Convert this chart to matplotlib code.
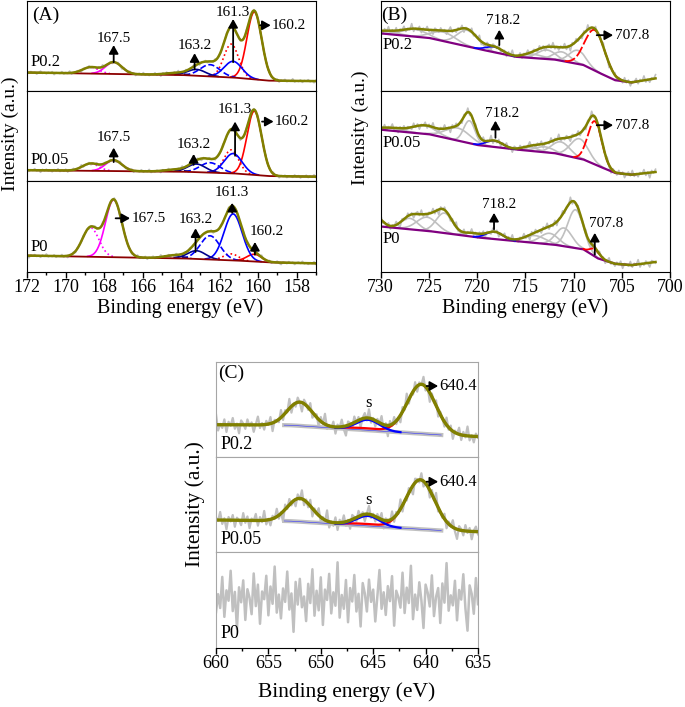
import numpy as np
import matplotlib.pyplot as plt

plt.rcParams['font.family'] = ['Liberation Serif', 'DejaVu Serif']

# residual pattern of the noisy raw spectra (read by eye, in units of the noise level)
resid = [0.12, -0.35, 0.48, -0.10, 0.22, -0.61, 0.05, 0.73, -0.28, 0.15,
         -0.44, 0.31, -0.08, 0.57, -0.72, 0.19, 0.02, -0.25, 0.66, -0.39,
         0.27, -0.13, 0.84, -0.55, 0.09, -0.31, 0.41, -0.06, -0.78, 0.35,
         0.14, -0.22, 0.59, -0.47, 0.03, 0.26, -0.65, 0.38, -0.12, 0.91,
         -0.33, 0.07, -0.19, 0.45, -0.58, 0.21, -0.04, 0.62, -0.27, -0.85,
         0.33, 0.11, -0.41, 0.52, -0.16, 0.29, -0.69, 0.08, 0.44, -0.23,
         0.77, -0.36, 0.13, -0.52, 0.24, -0.09, 0.68, -0.43, 0.18, -0.95,
         0.36, -0.14, 0.51, -0.29, 0.06, -0.62, 0.40, -0.18, 0.87, -0.37,
         0.10, -0.26, 0.55, -0.49, 0.20, -0.07, 0.71, -0.34, 0.16, -0.80,
         0.28, -0.11, 0.46, -0.57, 0.23, 0.01, -0.42, 0.64, -0.21, 0.35,
         -0.67, 0.17, -0.03, 0.58, -0.45, 0.30, -0.15, 0.82, -0.38, 0.09,
         -0.53, 0.25, -0.10, 0.69, -0.30, 0.12, -0.88, 0.42, -0.17, 0.50,
         -0.24, 0.04, -0.60, 0.37, -0.13, 0.75, -0.46, 0.19, -0.32, 0.54,
         -0.70, 0.22, -0.05, 0.63, -0.40, 0.15, -0.20, 0.93, -0.51, 0.08,
         -0.28, 0.47, -0.63, 0.26, -0.09, 0.60, -0.35, 0.11, -0.74, 0.39]

samples = ['P0.2', 'P0.05', 'P0']

# (A) S 2p : component centres / FWHM (eV), heights per sample
a_cent = [160.2, 161.4, 161.3, 162.5, 163.2, 164.4, 167.5, 168.7]
a_fwhm = [0.9, 0.9, 1.1, 1.2, 1.1, 1.1, 1.0, 1.0]
a_height = [[75, 37, 18, 13, 7, 2, 13, 7],
            [71, 26, 22, 11, 9, 2, 12, 8],
            [8, 7, 51, 26, 9, 3, 63, 32]]
a_bg_x = [172, 164, 161.3, 159.5, 157]
a_bg = [[20.5, 17.8, 15, 11.5, 11],
        [12, 10.4, 8.5, 5.5, 4.8],
        [18, 15, 12.8, 10.6, 9.5]]

# (B) Fe 2p : Shirley background and components (centre, height, FWHM)
b_bg_x = [730, 725, 720, 716, 712, 709, 707.5, 705.7, 704, 701.5]
b_bg = [[64, 59, 47, 38, 35, 29, 21, 12, 9.5, 14],
        [57, 52, 40, 35, 31, 24, 17, 9, 7, 10],
        [50, 45, 38, 34, 30, 25, 15, 9, 7.5, 11]]
b_red = [(707.8, 45, 2.4), (707.8, 48, 1.7), (707.8, 8, 1.2)]
b_blue = [(718.2, 6, 2.0), (718.2, 7, 2.0), (718.2, 8, 2.0)]
b_gray = [
    [(709.6, 15, 2.0), (711.2, 10, 2.0), (712.8, 10, 2.2), (714.2, 4, 2.5),
     (721.0, 18, 2.5), (723.5, 10, 3.0), (726.5, 8, 3.0), (729.5, 3, 3.0)],
    [(709.4, 22, 2.2), (711.3, 14, 2.2), (713.0, 6, 2.2), (714.5, 4, 2.0),
     (720.8, 25, 1.4), (722.0, 14, 3.0), (725.5, 9, 3.0), (729.0, 3, 3.0)],
    [(709.8, 42, 1.9), (711.0, 20, 2.0), (712.5, 12, 2.2), (714.0, 8, 2.6),
     (720.5, 4, 2.0), (723.4, 22, 2.0), (725.2, 15, 2.5), (727.0, 12, 2.0),
     (730.5, 10, 1.6)],
]

# (C) Mn 2p
c_bg_x = [660, 653, 638.3, 635]
c_bg = [[34, 33.5, 23, 21.5], [33.7, 32.6, 22.5, 21.4]]
c_red = [[(640.4, 52, 3.2), (646.0, 2, 4.0), (652.0, 25, 2.8)],
         [(640.5, 52, 3.2), (646.0, 2, 4.0), (652.0, 24.5, 2.8)]]
c_blue = [[(645.5, 11, 2.6)], [(645.5, 10.5, 2.6)]]
c_p0_level = 52

res = np.array(resid)
OLIVE = '#808000'
GRAY = '#c0c0c0'


def gauss(x, c, h, w):
    return h * np.exp(-4 * np.log(2) * ((x - c) / w) ** 2)


def bg_line(x, xp, fp):
    xp = np.array(xp)
    fp = np.array(fp)
    o = np.argsort(xp)
    return np.interp(x, xp[o], fp[o])


def arrow(ax, x0, y0, x1, y1):
    ax.annotate('', xy=(x1, y1), xytext=(x0, y0),
                arrowprops=dict(arrowstyle='-|>,head_length=0.5,head_width=0.28',
                                color='k', lw=1.3, shrinkA=0, shrinkB=0))


fig = plt.figure(figsize=(6.85, 7.07), dpi=100)


def column(left, width, bottoms, heights, lim):
    axs = []
    for b, h in zip(bottoms, heights):
        ax = fig.add_axes([left, b, width, h])
        ax.set_xlim(lim)
        ax.set_ylim(0, 100)
        ax.set_yticks([])
        ax.tick_params(axis='x', bottom=False, labelbottom=False)
        axs.append(ax)
    axs[-1].tick_params(axis='x', bottom=True, labelbottom=True, direction='out',
                        length=4, width=1, labelsize=13, pad=1)
    axs[-1].tick_params(axis='x', which='minor', length=2.5, width=1)
    return axs


ax_a = column(0.0394, 0.4219, [0.8713, 0.7440, 0.6153], [0.1273, 0.1273, 0.1287], (172, 157))
ax_b = column(0.5558, 0.4223, [0.8713, 0.7440, 0.6153], [0.1273, 0.1273, 0.1287], (730, 700))
ax_c = column(0.3153, 0.3825, [0.3536, 0.2192, 0.0835], [0.1344, 0.1344, 0.1358], (660, 635))

# ---------------- (A) ----------------
a_style = [('#ff0000', '-'), ('#ff0000', ':'), ('#0000ff', '-'), ('#0000ff', '--'),
           ('#00008b', '-'), ('#00008b', '--'), ('#ff00ff', '-'), ('#ff00ff', ':')]
xa = np.linspace(172, 157, 150)
xf = np.linspace(172, 157, 900)
for i, ax in enumerate(ax_a):
    base_r = bg_line(xa, a_bg_x, a_bg[i])
    env_r = base_r + sum(gauss(xa, c, h, w) for c, h, w in zip(a_cent, a_height[i], a_fwhm))
    ax.plot(xa, env_r + 2.5 * np.roll(res, 41 * i), color=GRAY, lw=1.2)
    base = bg_line(xf, a_bg_x, a_bg[i])
    env = base.copy()
    for c, h, w, (col, ls) in zip(a_cent, a_height[i], a_fwhm, a_style):
        g = gauss(xf, c, h, w)
        env += g
        m = g > 0.4
        ax.plot(xf[m], (base + g)[m], color=col, ls=ls, lw=1.2)
    ax.plot(xf, base, color='#8b0000', lw=1.3)
    ax.plot(xf, env, color=OLIVE, lw=1.8)
    ax.text(171.8, [32, 23, 27.5][i], samples[i], fontsize=12, va='center', ha='left')

ax_a[-1].set_xticks(np.arange(172, 157, -2))
ax_a[-1].set_xticks(np.arange(172, 156.5, -1), minor=True)
ax_a[0].text(0.017, 0.84, '(A)', transform=ax_a[0].transAxes, fontsize=14, va='center')

fs = 11
ax = ax_a[0]
arrow(ax, 167.5, 32, 167.5, 51); ax.text(167.5, 58, '167.5', fontsize=fs, ha='center', va='center')
arrow(ax, 163.3, 24, 163.3, 42); ax.text(163.3, 51, '163.2', fontsize=fs, ha='center', va='center')
arrow(ax, 161.3, 32, 161.3, 80); ax.text(161.3, 87, '161.3', fontsize=fs, ha='center', va='center')
arrow(ax, 159.9, 73, 159.35, 73); ax.text(159.3, 73, '160.2', fontsize=fs, ha='left', va='center')
ax = ax_a[1]
arrow(ax, 167.5, 21, 167.5, 37); ax.text(167.5, 48, '167.5', fontsize=fs, ha='center', va='center')
arrow(ax, 163.35, 18, 163.35, 30); ax.text(163.35, 40, '163.2', fontsize=fs, ha='center', va='center')
arrow(ax, 161.2, 28, 161.2, 66); ax.text(161.2, 79, '161.3', fontsize=fs, ha='center', va='center')
arrow(ax, 159.8, 66, 159.2, 66); ax.text(159.15, 66, '160.2', fontsize=fs, ha='left', va='center')
ax = ax_a[2]
arrow(ax, 167.4, 59, 166.65, 59); ax.text(166.55, 59, '167.5', fontsize=fs, ha='left', va='center')
arrow(ax, 163.25, 22, 163.25, 48); ax.text(163.25, 58, '163.2', fontsize=fs, ha='center', va='center')
arrow(ax, 161.35, 65, 161.35, 76); ax.text(161.35, 87, '161.3', fontsize=fs, ha='center', va='center')
arrow(ax, 160.17, 19, 160.17, 33); ax.text(159.55, 44, '160.2', fontsize=fs, ha='center', va='center')

# ---------------- (B) ----------------
xb = np.linspace(730, 701.5, 143)
xbf = np.linspace(730, 701.5, 900)
for i, ax in enumerate(ax_b):
    comps = b_gray[i] + [b_red[i], b_blue[i]]
    base_r = bg_line(xb, b_bg_x, b_bg[i])
    env_r = base_r + sum(gauss(xb, *p) for p in comps)
    ax.plot(xb, env_r + 6 * np.roll(res, 29 + 41 * i)[:len(xb)], color=GRAY, lw=1.2)
    base = bg_line(xbf, b_bg_x, b_bg[i])
    for p in b_gray[i]:
        g = gauss(xbf, *p)
        m = g > 0.4
        ax.plot(xbf[m], (base + g)[m], color=GRAY, lw=1.2)
    mb = xbf >= 703.5
    ax.plot(xbf[mb], base[mb], color='#800080', lw=1.6)
    g = gauss(xbf, *b_blue[i])
    m = g > 0.3
    ax.plot(xbf[m], (base + g)[m], color='#0000ff', lw=1.2)
    g = gauss(xbf, *b_red[i])
    m = g > 0.4
    ax.plot(xbf[m], (base + g)[m], color='#ff0000', lw=1.3, ls=(0, (6, 1.5)))
    env = base + sum(gauss(xbf, *p) for p in comps)
    ax.plot(xbf, env, color=OLIVE, lw=1.8)
    ax.text(729.8, [51, 42, 36][i], samples[i], fontsize=12, va='center', ha='left')

ax_b[-1].set_xticks(np.arange(730, 699, -5))
ax_b[0].text(0.003, 0.84, '(B)', transform=ax_b[0].transAxes, fontsize=14, va='center')

ax = ax_b[0]
arrow(ax, 717.7, 51, 717.7, 68); ax.text(717.35, 78, '718.2', fontsize=fs, ha='center', va='center')
arrow(ax, 707.6, 62, 705.9, 62); ax.text(705.7, 62, '707.8', fontsize=fs, ha='left', va='center')
ax = ax_b[1]
arrow(ax, 718.1, 48, 718.1, 67); ax.text(717.45, 75, '718.2', fontsize=fs, ha='center', va='center')
arrow(ax, 707.6, 62, 705.9, 62); ax.text(705.7, 62, '707.8', fontsize=fs, ha='left', va='center')
ax = ax_b[2]
arrow(ax, 718.25, 47, 718.25, 65); ax.text(717.7, 74, '718.2', fontsize=fs, ha='center', va='center')
arrow(ax, 707.8, 19, 707.8, 43); ax.text(706.6, 53, '707.8', fontsize=fs, ha='center', va='center')

# ---------------- (C) ----------------
xc = np.linspace(660, 635, 126)
xcf = np.linspace(660, 635, 900)
for i, ax in enumerate(ax_c[:2]):
    comps = c_red[i] + c_blue[i]
    base_r = bg_line(xc, c_bg_x, c_bg[i])
    env_r = base_r + sum(gauss(xc, *p) for p in comps)
    ax.plot(xc, env_r + 12 * np.roll(res, 13 + 53 * i)[:len(xc)], color=GRAY, lw=1.6)
    base = bg_line(xcf, c_bg_x, c_bg[i])
    mb = (xcf <= 653.5) & (xcf >= 638.5)
    ax.plot(xcf[mb], base[mb], color=GRAY, lw=3)
    ax.plot(xcf[mb], base[mb], color='#3030ff', lw=0.4)
    red = sum(gauss(xcf, *p) for p in c_red[i])
    m = red > 0.5
    ax.plot(xcf[m], (base + red)[m], color='#ff0000', lw=1.6)
    blue = sum(gauss(xcf, *p) for p in c_blue[i])
    m = blue > 0.2
    ax.plot(xcf[m], (base + blue)[m], color='#0000ff', lw=1.6)
    env = base + red + blue
    ax.plot(xcf, env, color=OLIVE, lw=2.4)
    ax.text(659.6, [13.6, 13.4][i], samples[i], fontsize=13, va='center', ha='left')
    ax.text(645.4, [56.5, 54.7][i], 's', fontsize=12, ha='center', va='center')
    yl = [74.7, 74][i]
    arrow(ax, 639.9, yl, 638.8, yl)
    ax.text(638.7, yl, '640.4', fontsize=12, ha='left', va='center')

ax_c[2].plot(xc, c_p0_level + 40 * np.roll(res, 71)[:len(xc)], color=GRAY, lw=1.8)
ax_c[2].text(659.6, 14.6, samples[2], fontsize=13, va='center', ha='left')
ax_c[-1].set_xticks(np.arange(660, 634, -5))
ax_c[-1].set_xticks(np.arange(660, 634, -2.5), minor=True)
ax_c[0].text(0.01, 0.884, '(C)', transform=ax_c[0].transAxes, fontsize=14, va='center')
for ax in ax_c:
    for s in ax.spines.values():
        s.set_color('#a6a6a6')
ax_c[-1].spines['bottom'].set_color('k')

# axis titles
fig.text(0.0146, 1 - 134 / 707, 'Intensity (a.u.)', rotation=90, fontsize=14, ha='center', va='center')
fig.text(360.7 / 685, 1 - 128 / 707, 'Intensity (a.u.)', rotation=90, fontsize=14, ha='center', va='center')
fig.text(195 / 685, 1 - 504 / 707, 'Intensity (a.u.)', rotation=90, fontsize=15.5, ha='center', va='center')
fig.text(180 / 685, 1 - 308 / 707, 'Binding energy (eV)', fontsize=14.5, ha='center', va='center')
fig.text(525 / 685, 1 - 308 / 707, 'Binding energy (eV)', fontsize=14.5, ha='center', va='center')
fig.text(347 / 685, 1 - 692 / 707, 'Binding energy (eV)', fontsize=15.5, ha='center', va='center')

fig.savefig('out.png', dpi=100)
